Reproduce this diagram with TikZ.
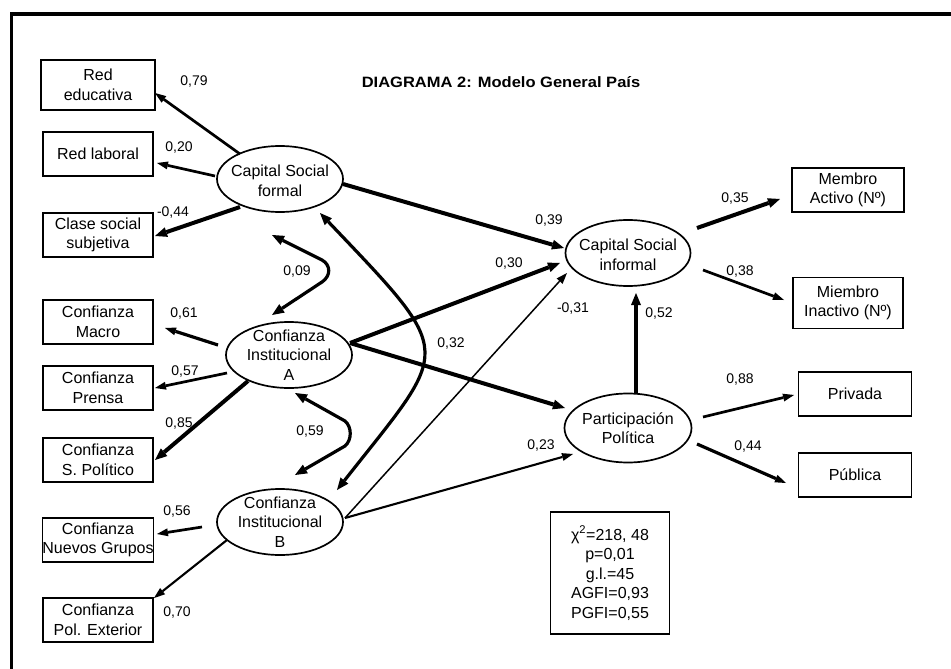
\documentclass[tikz,border=0pt]{standalone}
\usepackage{fontspec}
\setmainfont{Liberation Sans}
\usepackage{graphicx}
\usetikzlibrary{arrows.meta,calc,shapes.geometric}

\tikzset{
  obs/.style={draw, line width=1.7pt, minimum width=110pt, minimum height=44pt,
    inner sep=0pt, align=center, font=\fontsize{16}{19.5}\selectfont},
  latent/.style={draw, ellipse, line width=1.7pt, minimum width=126pt,
    minimum height=66pt, inner sep=0pt},
  lattxt/.style={align=center, inner sep=0pt, font=\fontsize{16}{19.5}\selectfont},
  coef/.style={inner sep=0pt, font=\fontsize{14}{16}\selectfont},
  tipA/.tip={Triangle[length=11pt,width=8pt,line width=0pt]},
  tipC/.tip={Triangle[length=12pt,width=10pt,line width=0pt]},
  arrA/.style={-tipA, line width=1.5pt},
  arrAA/.style={-tipA, line width=2.1pt},
  arrB/.style={-tipA, line width=2.7pt},
  arrC/.style={-tipC, line width=4pt},
  cov/.style={tipC-tipC, line width=3.2pt},
}

\begin{document}
\begin{tikzpicture}[x=1pt,y=-1pt]
\useasboundingbox (0,0) rectangle (951,669);

% outer frame
\draw[line width=3.6pt] (11.3,669) -- (11.3,14) -- (951,14);

% title
\node[inner sep=0pt, font=\fontsize{15}{17}\selectfont\bfseries] (title) at (501,82)
  {\scalebox{1.1}[1]{DIAGRAMA 2: Modelo General País}};

% observed indicators, left column
\node[obs, minimum width=114pt, minimum height=50pt] (redu) at (98,85) {Red\\educativa};
\node[obs] (redl)    at (98,154) {Red laboral};
\node[obs] (clase)   at (98,235) {Clase social\\subjetiva};
\node[obs] (cmacro)  at (98,322) {Confianza\\Macro};
\node[obs] (cprensa) at (98,388) {Confianza\\Prensa};
\node[obs] (cspol)   at (98,460) {Confianza\\S. Político};
\node[obs] (cnuevos) at (98,540) {Confianza\\Nuevos Grupos};
\node[obs] (cpolext) at (98,620) {Confianza\\Pol. Exterior};

% observed indicators, right column
\node[obs, minimum width=112pt] (mact) at (848,190) {Membro\\Activo (Nº)};
\node[obs, minimum height=51pt] (minact) at (848,303) {Miembro\\Inactivo (Nº)};
\node[obs, minimum width=113pt] (priv) at (855,394) {Privada};
\node[obs, minimum width=113pt] (publ) at (855,475) {Pública};

% latent variables
\node[latent] (csf) at (280,179) {};
\node[lattxt] (csf-t) at ([yshift=-2pt]csf) {Capital Social\\formal};
\node[latent] (cia) at (289,355) {};
\node[lattxt] (cia-t) at (cia) {Confianza\\Institucional\\A};
\node[latent] (cib) at (280,522) {};
\node[lattxt] (cib-t) at (cib) {Confianza\\Institucional\\B};
\node[latent, minimum width=125pt] (csi) at (628,253) {};
\node[lattxt] (csi-t) at ([yshift=-2pt]csi) {Capital Social\\informal};
\node[latent, minimum width=127pt, minimum height=69pt] (pp) at (628,428) {};
\node[lattxt] (pp-t) at (pp) {Participación\\Política};

% fit statistics
\node[obs, minimum width=119pt, minimum height=122pt] (fit) at (610,573)
  {χ\textsuperscript{2}=218,~48\\p=0,01\\g.l.=45\\AGFI=0,93\\PGFI=0,55};

% measurement paths
\draw[arrB] ($(csf)+(-40,-25)$) -- ($(redu)+(57,8)$);
\draw[arrB] ($(csf)+(-65,-3)$) -- ($(redl)+(59,9)$);
\draw[arrC] ($(csf)+(-40,28)$) -- ($(clase)+(57,1)$);
\draw[arrB, line width=3.2pt] ($(cia)+(-71,-10)$) -- ($(cmacro)+(67,6)$);
\draw[arrB] ($(cia)+(-62,18)$) -- ($(cprensa)+(57,0)$);
\draw[arrC] ($(cia)+(-41,26)$) -- ($(cspol)+(57,0)$);
\draw[arrB] ($(cib)+(-78,5)$) -- ($(cnuevos)+(59,-6)$);
\draw[arrAA] ($(cib)+(-53,18)$) -- ($(cpolext)+(56,-22)$);
\draw[arrC] ($(csi)+(69,-25)$) -- ($(mact)+(-68,9)$);
\draw[arrB] ($(csi)+(75,17)$) -- ($(minact)+(-64,-3)$);
\draw[arrB] ($(pp)+(75,-11)$) -- ($(priv)+(-61,1)$);
\draw[arrB, line width=3.2pt] ($(pp)+(69,16)$) -- ($(publ)+(-69,8)$);

% structural paths
\draw[arrC] ($(csf)+(63,5)$) -- ($(csi)+(-64,-5)$);
\draw[arrC] ($(cia)+(61,-12)$) -- ($(csi)+(-68,10)$);
\draw[arrC] ($(cia)+(61,-12)$) -- ($(pp)+(-63,-20)$);
\draw[arrA] ($(cib)+(65,-4)$) -- ($(csi)+(-61,20)$);
\draw[arrAA] ($(cib)+(65,-4)$) -- ($(pp)+(-55,26)$);
\draw[arrC] ($(pp)+(8,-35)$) -- ($(csi)+(8,40)$);

% covariances between the exogenous factors
\draw[cov] ($(csf)+(-8,56)$) -- ($(csf)+(42,81)$)
  .. controls ($(csf)+(51,86)$) and ($(csf)+(51,97)$) .. ($(csf)+(42,103)$)
  -- ($(cia)+(-17,-40)$);
\draw[cov] ($(cia)+(6,38)$) -- ($(cia)+(56,66)$)
  .. controls ($(cia)+(63,72)$) and ($(cia)+(63,85)$) .. ($(cia)+(56,91)$)
  -- ($(cib)+(15,-47)$);
\draw[cov] ($(csf)+(40,34)$)
  .. controls ($(csf)+(178,179)$) and ($(cib)+(171,-177)$) .. ($(cib)+(57,-32)$);

% coefficients
\node[coef] (k79)  at (194,82)  {0,79};
\node[coef] (k20)  at (179,148) {0,20};
\node[coef] (k44a) at (173,213) {-0,44};
\node[coef] (k09)  at (297,272) {0,09};
\node[coef] (k61)  at (184,314) {0,61};
\node[coef] (k57)  at (185,372) {0,57};
\node[coef] (k85)  at (179,424) {0,85};
\node[coef] (k32)  at (451,344) {0,32};
\node[coef] (k59)  at (310,432) {0,59};
\node[coef] (k56)  at (177,512) {0,56};
\node[coef] (k70)  at (177,613) {0,70};
\node[coef] (k39)  at (549,221) {0,39};
\node[coef] (k30)  at (509,264) {0,30};
\node[coef] (k31)  at (573,309) {-0,31};
\node[coef] (k52)  at (659,314) {0,52};
\node[coef] (k23)  at (541,446) {0,23};
\node[coef] (k35)  at (735,199) {0,35};
\node[coef] (k38)  at (740,272) {0,38};
\node[coef] (k88)  at (740,380) {0,88};
\node[coef] (k44b) at (748,447) {0,44};
\end{tikzpicture}
\end{document}
